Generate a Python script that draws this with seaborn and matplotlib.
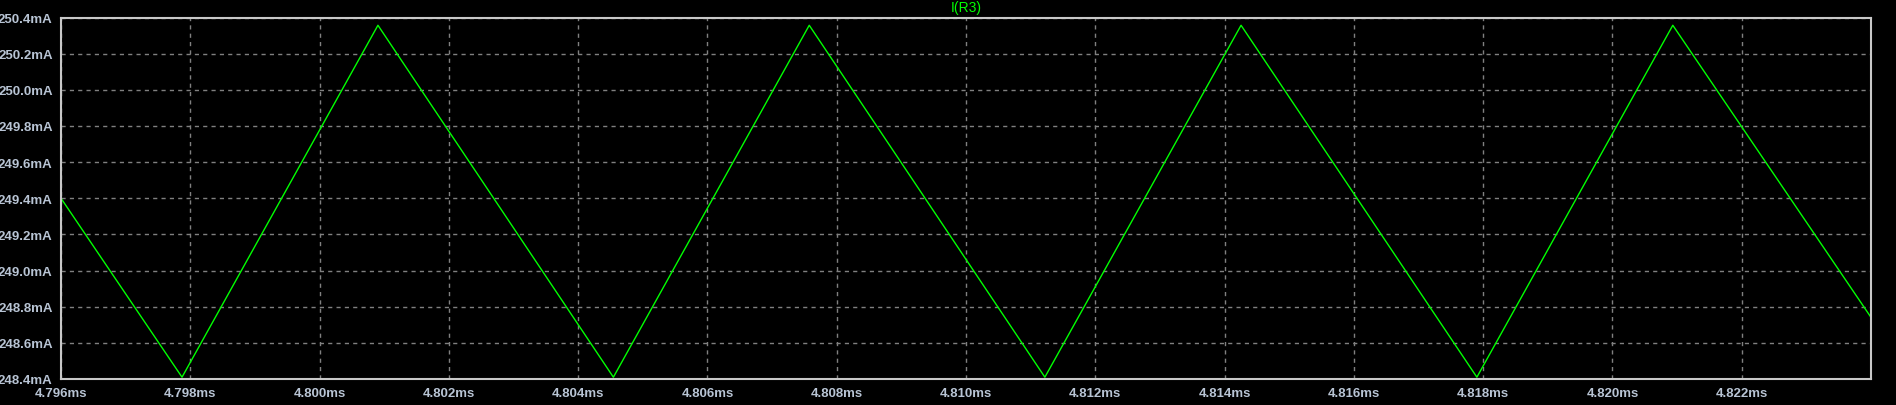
import matplotlib
matplotlib.use("Agg")
import matplotlib.pyplot as plt
import seaborn as sns
import pandas as pd
from matplotlib.ticker import FixedLocator

# data: time in ms, current in mA (vertices of triangle wave)
time_ms = [4.7960, 4.797872, 4.800903, 4.804545, 4.807575, 4.81122,
           4.814255, 4.817903, 4.820934, 4.8240]
current_mA = [249.40, 248.41, 250.357, 248.41, 250.357, 248.41,
              250.357, 248.41, 250.357, 248.741]
x_ticks = [4.796, 4.798, 4.800, 4.802, 4.804, 4.806, 4.808, 4.810,
           4.812, 4.814, 4.816, 4.818, 4.820, 4.822]
y_ticks = [248.4, 248.6, 248.8, 249.0, 249.2, 249.4, 249.6, 249.8,
           250.0, 250.2, 250.4]
title = "I(R3)"

sns.set_style("dark")
plt.rcParams['font.family'] = ['Liberation Sans', 'DejaVu Sans']

df = pd.DataFrame({"t": time_ms, "i": current_mA})

fig = plt.figure(figsize=(18.96, 4.06), dpi=100, facecolor="black")
ax = fig.add_axes([61/1896, 1 - 380/406, (1871 - 61)/1896, (380 - 18.5)/406])
ax.set_facecolor("black")

sns.lineplot(data=df, x="t", y="i", ax=ax, color="#00ff00", linewidth=1.0)

ax.set_xlim(4.796, 4.824)
ax.set_ylim(248.4, 250.4)
ax.xaxis.set_major_locator(FixedLocator(x_ticks))
ax.yaxis.set_major_locator(FixedLocator(y_ticks))
ax.set_xticklabels([f"{v:.3f}ms" for v in x_ticks])
ax.set_yticklabels([f"{v:.1f}mA" for v in y_ticks])
ax.set_xlabel("")
ax.set_ylabel("")

label_color = "#b8c4d4"
ax.tick_params(axis="both", which="major", direction="out", length=5, width=1.2,
               color="#c8c8c8", labelcolor=label_color, labelsize=9.5, pad=1)
for lab in ax.get_xticklabels() + ax.get_yticklabels():
    lab.set_fontweight("bold")

ax.grid(True, color="#808080", linestyle=(0, (3, 3)), linewidth=1.0)
for s in ax.spines.values():
    s.set_visible(True)
    s.set_color("#c8c8c8")
    s.set_linewidth(1.5)

fig.text((61 + 1871) / 2 / 1896, 1 - 8 / 406, title, color="#00ff00",
         ha="center", va="center", fontsize=10)

fig.savefig("out.png", dpi=100, facecolor="black")
